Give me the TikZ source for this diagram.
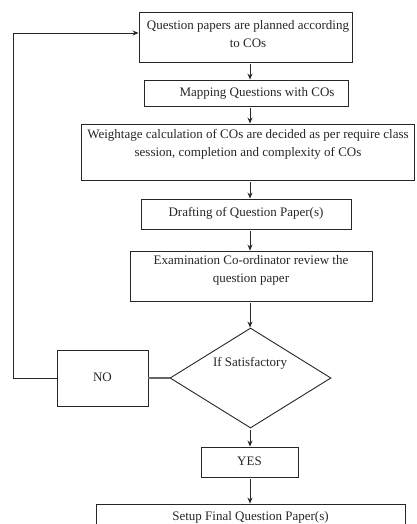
\documentclass[tikz,border=0pt]{standalone}
\usepackage{fontspec}
\setmainfont{Liberation Serif}
\usetikzlibrary{shapes.geometric,arrows.meta}
\begin{document}
\begin{tikzpicture}[x=1pt,y=-1pt,
 box/.style={draw=black!85,line width=0.9pt,rectangle,inner sep=0pt},
 txt/.style={font=\fontsize{13}{18}\selectfont,align=center,inner sep=0pt,text=black!85},
 arr/.style={-{Stealth[length=6pt,width=5pt]},line width=0.9pt,draw=black!85,shorten <=2pt},
 link/.style={line width=0.9pt,draw=black!85}]
\clip (0,0) rectangle (416,524);
\coordinate (ax) at (250,0);
\node[box,minimum width=213pt,minimum height=50pt] (b1) at (245.5,37) {};
\node[txt] (t1) at (248,34.5) {Question papers are planned according\\to COs};
\node[box,minimum width=204pt,minimum height=26pt] (b2) at (246,93) {};
\node[txt] (t2) at (257,93) {Mapping Questions with COs};
\node[box,minimum width=333pt,minimum height=56pt] (b3) at (247.5,152) {};
\node[txt] (t3) at (248,144) {Weightage calculation of COs are decided as per require class\\session, completion and complexity of COs};
\node[box,minimum width=210pt,minimum height=30pt] (b4) at (246,214) {};
\node[txt] (t4) at (246,213) {Drafting of Question Paper(s)};
\node[box,minimum width=242pt,minimum height=50pt] (b5) at (251,276) {};
\node[txt] (t5) at (251,270.5) {Examination Co-ordinator review the\\question paper};
\node[draw=black!85,line width=0.9pt,diamond,inner sep=0pt,minimum width=161pt,minimum height=100pt] (d) at (250.5,378) {};
\node[txt] (dl) at (250,363) {If Satisfactory};
\node[box,minimum width=91pt,minimum height=56pt] (no) at (102.5,378) {};
\node[txt] (nt) at (102.5,377) {NO};
\node[box,minimum width=97pt,minimum height=30pt] (yes) at (249.5,462) {};
\node[txt] (yt) at (249.5,461) {YES};
\node[box,minimum width=309pt,minimum height=40pt] (fin) at (250.5,524) {};
\node[txt] (ft) at (250.5,517) {Setup Final Question Paper(s)};
\draw[arr] (b1.south -| ax) -- (b2.north -| ax);
\draw[arr] (b2.south -| ax) -- (b3.north -| ax);
\draw[arr] (b3.south -| ax) -- (b4.north -| ax);
\draw[arr] (b4.south -| ax) -- (b5.north -| ax);
\draw[arr] (b5.south -| ax) -- (d.north -| ax);
\draw[arr] (d.south -| ax) -- (yes.north -| ax);
\draw[arr] (yes.south -| ax) -- (fin.north -| ax);
\draw[line width=1.2pt,draw=black!60] (d.west) -- (no.east);
\coordinate (c1) at (13,378);
\coordinate (c2) at (13,33);
\draw[link,-{Stealth[length=6pt,width=5pt]}] (no.west) -- (c1) -- (c2) -- (c2 -| b1.west);
\end{tikzpicture}
\end{document}
